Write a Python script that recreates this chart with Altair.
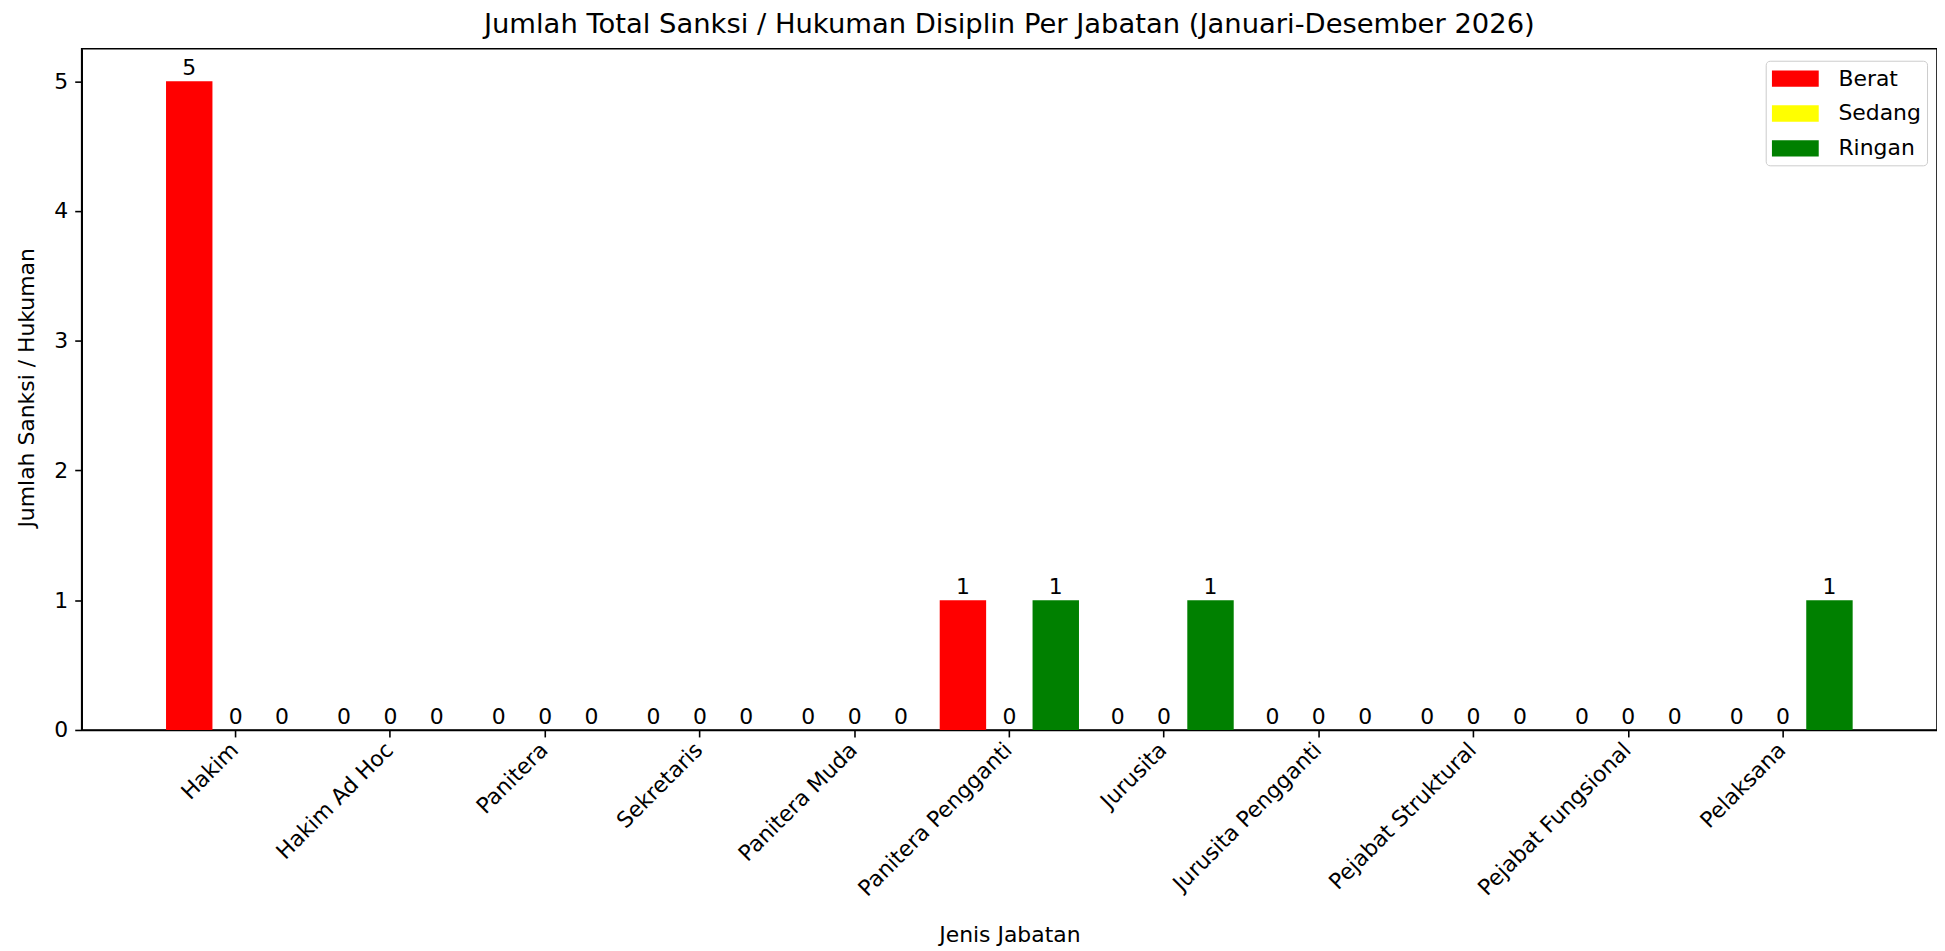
import altair as alt
import pandas as pd

categories = ["Hakim", "Hakim Ad Hoc", "Panitera", "Sekretaris", "Panitera Muda",
              "Panitera Pengganti", "Jurusita", "Jurusita Pengganti",
              "Pejabat Struktural", "Pejabat Fungsional", "Pelaksana"]
levels = ["Berat", "Sedang", "Ringan"]
berat = [5, 0, 0, 0, 0, 1, 0, 0, 0, 0, 0]
sedang = [0, 0, 0, 0, 0, 0, 0, 0, 0, 0, 0]
ringan = [0, 0, 0, 0, 0, 1, 1, 0, 0, 0, 1]
level_colors = ["#ff0000", "#ffff00", "#008000"]
y_ticks = [0, 1, 2, 3, 4, 5]

rows = []
for i, c in enumerate(categories):
    for lv, vals in zip(levels, [berat, sedang, ringan]):
        rows.append({"jabatan": c, "tingkat": lv, "jumlah": vals[i]})
df = pd.DataFrame(rows)

FONT = "DejaVu Sans"
FS = 22

base = alt.Chart(df).encode(
    x=alt.X("jabatan:N", sort=categories,
            scale=alt.Scale(paddingInner=0.1, paddingOuter=0.545),
            axis=alt.Axis(title="Jenis Jabatan", labelAngle=-45, labelAlign="right",
                          labelBaseline="top", labelOffset=-8, labelPadding=2,
                          tickSize=7, tickWidth=1.6, tickColor="black",
                          domainColor="black", domainWidth=1.6,
                          labelFontSize=FS, titleFontSize=FS, labelColor="black",
                          titleColor="black", titleFontWeight="normal",
                          titleY=205, titleBaseline="middle", labelLimit=400)),
    xOffset=alt.XOffset("tingkat:N", sort=levels,
                        scale=alt.Scale(domain=levels, paddingInner=0, paddingOuter=0)),
    y=alt.Y("jumlah:Q", scale=alt.Scale(domain=[0, 5.25], nice=False),
            axis=alt.Axis(title="Jumlah Sanksi / Hukuman", values=y_ticks, grid=False,
                          tickSize=7, tickWidth=1.6, tickColor="black",
                          domainColor="black", domainWidth=1.6, labelPadding=7,
                          labelFontSize=FS, titleFontSize=FS, labelColor="black",
                          titleColor="black", titleFontWeight="normal",
                          titleX=-55, titleY=340, titleBaseline="middle",
                          titleAlign="center", format="d")),
)

bars = base.mark_bar().encode(
    color=alt.Color("tingkat:N", sort=levels,
                    scale=alt.Scale(domain=levels, range=level_colors),
                    legend=alt.Legend(title=None, orient="none", legendX=1691, legendY=12,
                                      symbolType="M-1,-0.7H3V0.7H-1Z", symbolSize=552,
                                      symbolOffset=0, symbolStrokeWidth=0,
                                      labelOffset=43, padding=6, rowPadding=12,
                                      strokeColor="#cccccc", fillColor="white",
                                      cornerRadius=4, labelFontSize=FS,
                                      labelColor="black", labelFont=FONT))
)

text = base.mark_text(baseline="alphabetic", dy=-6, fontSize=FS, font=FONT,
                      color="black").encode(text="jumlah:Q")

chart = alt.layer(bars, text).properties(
    width=1863, height=684,
    title=alt.TitleParams("Jumlah Total Sanksi / Hukuman Disiplin Per Jabatan (Januari-Desember 2026)",
                          fontSize=27.5, font=FONT, fontWeight="normal", color="black",
                          anchor="middle", offset=10),
    autosize=alt.AutoSizeParams(type="none"),
    padding={"left": 74, "top": 39, "right": 0, "bottom": 220},
).configure(font=FONT).configure_view(stroke="black", strokeWidth=1.6)

chart.save("out.html", embed_options={"renderer": "svg", "actions": False})
